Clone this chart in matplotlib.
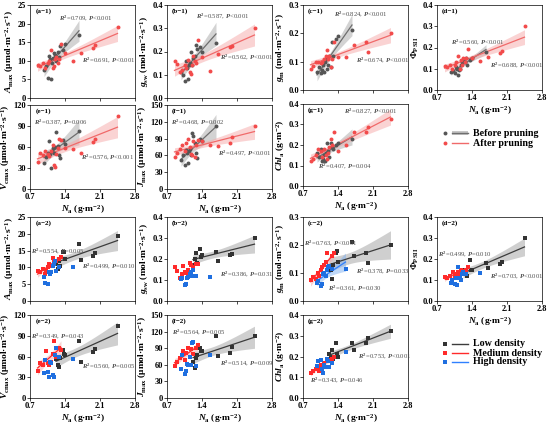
import matplotlib
matplotlib.use("Agg")
import matplotlib.pyplot as plt
import numpy as np

plt.rcParams['font.family'] = ['Liberation Serif', 'DejaVu Serif']
plt.rcParams['mathtext.fontset'] = 'custom'
plt.rcParams['mathtext.rm'] = 'Liberation Serif:bold'
plt.rcParams['mathtext.it'] = 'Liberation Serif:italic:bold'
plt.rcParams['mathtext.bf'] = 'Liberation Serif:bold'

# ---------------- data ----------------
# top half: before / after pruning (shared N_a values)
before_x = [0.98, 1.02, 1.05, 1.08, 1.10, 1.12, 1.14, 1.16, 1.18, 1.20, 1.22, 1.25, 1.28, 1.30, 1.35, 1.40, 1.68]
after_x = [0.85, 0.90, 0.95, 1.00, 1.05, 1.08, 1.12, 1.15, 1.18, 1.20, 1.22, 1.25, 1.28, 1.32, 1.40, 1.55, 1.72, 1.95, 2.00, 2.45]

before_y = {
    'a': [7.5, 8.5, 5.3, 11.2, 10.5, 5.0, 9.5, 10.8, 12.0, 11.5, 10.0, 12.5, 11.0, 14.0, 13.0, 14.5, 17.0],
    'b': [0.11, 0.10, 0.075, 0.16, 0.13, 0.08, 0.14, 0.15, 0.20, 0.14, 0.17, 0.18, 0.23, 0.21, 0.22, 0.20, 0.235],
    'c': [0.065, 0.08, 0.06, 0.07, 0.09, 0.065, 0.10, 0.11, 0.075, 0.09, 0.12, 0.08, 0.17, 0.12, 0.18, 0.19, 0.21],
    'd': [0.085, 0.09, 0.08, 0.11, 0.10, 0.07, 0.095, 0.10, 0.12, 0.13, 0.14, 0.13, 0.15, 0.12, 0.14, 0.15, 0.18],
    'e': [37, 46, 52, 68, 50, 30, 55, 58, 52, 60, 82, 62, 48, 45, 70, 64, 83],
    'f': [52, 60, 43, 70, 65, 47, 68, 72, 60, 100, 95, 82, 65, 55, 90, 85, 112],
    'g': [0.16, 0.14, 0.18, 0.12, 0.13, 0.15, 0.12, 0.16, 0.21, 0.17, 0.14, 0.21, 0.19, 0.18, 0.20, 0.21, 0.23],
}
after_y = {
    'a': [8.8, 8.5, 9.5, 8.0, 9.5, 10.0, 12.8, 8.0, 8.5, 10.5, 11.0, 9.5, 10.5, 14.5, 12.0, 10.0, 12.2, 13.5, 14.2, 19.2],
    'b': [0.16, 0.145, 0.11, 0.12, 0.14, 0.13, 0.165, 0.11, 0.105, 0.14, 0.18, 0.16, 0.15, 0.25, 0.175, 0.115, 0.19, 0.22, 0.225, 0.30],
    'c': [0.075, 0.085, 0.10, 0.10, 0.095, 0.10, 0.11, 0.12, 0.14, 0.11, 0.12, 0.08, 0.11, 0.17, 0.115, 0.115, 0.16, 0.17, 0.135, 0.20],
    'd': [0.115, 0.11, 0.12, 0.10, 0.12, 0.13, 0.16, 0.10, 0.14, 0.12, 0.15, 0.13, 0.15, 0.195, 0.15, 0.135, 0.155, 0.175, 0.185, 0.30],
    'e': [39, 52, 48, 55, 50, 47, 54, 63, 34, 32, 50, 58, 72, 70, 58, 57, 52, 67, 71, 104],
    'f': [57, 65, 72, 78, 68, 82, 90, 75, 62, 60, 85, 58, 78, 88, 85, 78, 76, 82, 93, 112],
    'g': [0.12, 0.13, 0.15, 0.18, 0.17, 0.14, 0.18, 0.15, 0.13, 0.16, 0.19, 0.23, 0.20, 0.265, 0.17, 0.20, 0.265, 0.265, 0.29, 0.325],
}

# bottom half: planting density
low_x = [1.22, 1.25, 1.28, 1.30, 1.35, 1.38, 1.40, 1.68, 1.72, 1.95, 2.00, 2.45]
med_x = [0.85, 0.90, 0.95, 1.00, 1.02, 1.05, 1.08, 1.12, 1.15, 1.18, 1.22, 1.28, 1.32]
high_x = [0.98, 1.00, 1.05, 1.08, 1.10, 1.12, 1.15, 1.18, 1.20, 1.22, 1.28, 1.55]

low_y = {
    'a': [11.0, 9.5, 12.0, 10.5, 14.5, 14.5, 12.5, 17.0, 12.2, 13.5, 14.2, 19.2],
    'b': [0.17, 0.20, 0.23, 0.18, 0.25, 0.21, 0.22, 0.235, 0.19, 0.22, 0.225, 0.30],
    'c': [0.12, 0.11, 0.08, 0.13, 0.17, 0.18, 0.14, 0.21, 0.16, 0.17, 0.135, 0.20],
    'd': [0.13, 0.15, 0.14, 0.12, 0.195, 0.15, 0.15, 0.18, 0.155, 0.175, 0.185, 0.30],
    'e': [57, 47, 45, 58, 70, 64, 62, 82, 52, 67, 71, 104],
    'f': [65, 55, 72, 78, 90, 85, 85, 112, 76, 82, 93, 112],
    'g': [0.21, 0.20, 0.23, 0.19, 0.265, 0.21, 0.20, 0.265, 0.23, 0.265, 0.29, 0.325],
}
med_y = {
    'a': [8.8, 8.5, 9.5, 8.0, 9.0, 10.0, 11.0, 10.5, 12.8, 11.5, 12.0, 12.5, 13.0],
    'b': [0.16, 0.145, 0.11, 0.13, 0.165, 0.14, 0.135, 0.15, 0.18, 0.17, 0.16, 0.175, 0.175],
    'c': [0.075, 0.085, 0.08, 0.10, 0.09, 0.11, 0.12, 0.13, 0.14, 0.17, 0.12, 0.16, 0.17],
    'd': [0.115, 0.11, 0.12, 0.10, 0.14, 0.12, 0.13, 0.14, 0.12, 0.15, 0.145, 0.15, 0.16],
    'e': [39, 50, 48, 55, 68, 50, 47, 52, 63, 82, 60, 72, 70],
    'f': [57, 65, 72, 78, 85, 68, 82, 90, 75, 88, 80, 90, 95],
    'g': [0.12, 0.13, 0.14, 0.15, 0.13, 0.16, 0.14, 0.17, 0.15, 0.18, 0.185, 0.19, 0.20],
}
high_y = {
    'a': [7.0, 5.3, 5.1, 8.5, 8.0, 8.5, 10.5, 11.0, 12.0, 9.0, 10.0, 10.0],
    'b': [0.105, 0.11, 0.075, 0.08, 0.11, 0.115, 0.13, 0.14, 0.12, 0.15, 0.12, 0.115],
    'c': [0.065, 0.07, 0.055, 0.06, 0.095, 0.10, 0.09, 0.11, 0.12, 0.125, 0.115, 0.115],
    'd': [0.085, 0.10, 0.08, 0.11, 0.075, 0.16, 0.11, 0.10, 0.13, 0.14, 0.13, 0.135],
    'e': [36, 55, 38, 30, 52, 50, 33, 31, 62, 72, 60, 57],
    'f': [52, 78, 43, 48, 62, 60, 75, 60, 100, 102, 58, 78],
    'g': [0.155, 0.18, 0.185, 0.14, 0.12, 0.16, 0.15, 0.19, 0.18, 0.15, 0.17, 0.22],
}

ylabels = {
    'a': r"$A_{\rm max}$ (μmol·m$^{-2}$·s$^{-1}$)",
    'b': r"$g_{\rm sw}$ (mol·m$^{-2}$·s$^{-1}$)",
    'c': r"$g_{\rm m}$ (mol·m$^{-2}$·s$^{-1}$)",
    'd': r"$\Phi_{\rm PSII}$",
    'e': r"$V_{\rm cmax}$ (μmol·m$^{-2}$·s$^{-1}$)",
    'f': r"$J_{\rm max}$ (μmol·m$^{-2}$·s$^{-1}$)",
    'g': r"$Chl_{\rm a}$ (g·m$^{-2}$)",
}
yticks = {
    'a': [0, 5, 10, 15, 20, 25],
    'b': [0.0, 0.1, 0.2, 0.3, 0.4],
    'c': [0.0, 0.1, 0.2, 0.3],
    'd': [0.0, 0.1, 0.2, 0.3, 0.4],
    'e': [0, 30, 60, 90, 120],
    'f': [0, 30, 60, 90, 120, 150],
    'g': [0.0, 0.1, 0.2, 0.3, 0.4],
}
xticks = [0.7, 1.4, 2.1, 2.8]

# statistics text per panel: (R2, P, x, y)
notes_top = {
    'a': [("0.709", "<0.001", 1.28, 21.0), ("0.691", "<0.001", 1.75, 9.6)],
    'b': [("0.587", "<0.001", 1.28, 0.345), ("0.562", "<0.001", 1.75, 0.165)],
    'c': [("0.824", "<0.001", 1.32, 0.26), ("0.674", "<0.001", 1.75, 0.098)],
    'd': [("0.560", "<0.001", 0.98, 0.215), ("0.688", "<0.001", 1.75, 0.108)],
    'e': [("0.387", "=0.006", 0.78, 92), ("0.576", "<0.001", 1.72, 43)],
    'f': [("0.468", "=0.002", 0.78, 115), ("0.497", "<0.001", 1.72, 60)],
    'g': [("0.827", "<0.001", 1.52, 0.355), ("0.407", "=0.004", 1.0, 0.085)],
}
notes_bot = {
    'a': [("0.554", "=0.005", 0.72, 14.3), ("0.499", "=0.010", 1.75, 9.8)],
    'b': [("0.386", "=0.031", 1.75, 0.12)],
    'c': [("0.763", "<0.001", 0.72, 0.2), ("0.378", "=0.033", 1.75, 0.1), ("0.361", "=0.030", 1.2, 0.038)],
    'd': [("0.499", "=0.010", 0.72, 0.215), ("0.703", "<0.001", 1.75, 0.108)],
    'e': [("0.349", "=0.043", 0.72, 87), ("0.560", "=0.005", 1.75, 43)],
    'f': [("0.564", "=0.005", 0.8, 115), ("0.514", "=0.009", 1.75, 60)],
    'g': [("0.753", "<0.001", 1.8, 0.19), ("0.343", "=0.046", 0.85, 0.075)],
}
# which density groups get a fitted line in the bottom panels
fit_bot = {
    'a': ['low', 'med'], 'b': ['low'], 'c': ['low', 'med', 'high'], 'd': ['low', 'med'],
    'e': ['low', 'med'], 'f': ['low', 'med'], 'g': ['low', 'med'],
}

# ---------------- layout (pixels: left, top, bottom) ----------------
W, H = 550, 425
cols = [30, 167, 303, 437]
wd = 105
pos_top = {
    'a': (cols[0], 5, 98), 'b': (cols[1], 5, 98), 'c': (cols[2], 5, 90), 'd': (cols[3], 5, 90),
    'e': (cols[0], 105, 189), 'f': (cols[1], 105, 189), 'g': (cols[2], 104, 186),
}
pos_bot = {
    'a': (cols[0], 217, 301), 'b': (cols[1], 217, 301), 'c': (cols[2], 217, 301), 'd': (cols[3], 217, 301),
    'e': (cols[0], 315, 398), 'f': (cols[1], 315, 398), 'g': (cols[2], 315, 398),
}
show_x = ['d', 'e', 'f', 'g']

GRAY_PT, GRAY_LN, GRAY_BD = '#555555', '#6e6e6e', '#b0b0b0'
RED_PT, RED_LN, RED_BD = '#f24b4b', '#f06a6a', '#f6a8a8'
BLK_PT, BLK_LN = '#333333', '#3c3c3c'
RED2_PT, RED2_LN = '#ff2a2a', '#ff2a2a'
BLU_PT, BLU_LN, BLU_BD = '#1f6fe0', '#2f80ff', '#7fb0f0'

fs_tick = 6.0
fs_lab = 6.8
fs_note = 4.8
pt_size = 8


def fit_band(ax, x, y, lc, bc, balpha):
    x = np.asarray(x, float)
    y = np.asarray(y, float)
    b, a = np.polyfit(x, y, 1)
    xs = np.linspace(x.min(), x.max(), 60)
    n = len(x)
    resid = y - (a + b * x)
    s = np.sqrt(np.sum(resid ** 2) / (n - 2))
    sxx = np.sum((x - x.mean()) ** 2)
    se = s * np.sqrt(1.0 / n + (xs - x.mean()) ** 2 / sxx)
    yhat = a + b * xs
    ax.fill_between(xs, yhat - 2.1 * se, yhat + 2.1 * se, color=bc, alpha=balpha, lw=0, zorder=1)
    ax.plot(xs, yhat, color=lc, lw=0.9, zorder=3)


def make_axes(fig, key, pos, tag):
    l, t, b = pos
    ax = fig.add_axes([l / W, 1 - b / H, wd / W, (b - t) / H])
    ax.set_xlim(0.7, 2.8)
    ax.set_ylim(yticks[key][0], yticks[key][-1])
    ax.set_xticks(xticks)
    ax.set_yticks(yticks[key])
    if key in ('b', 'c', 'd', 'g'):
        ax.set_yticklabels([f"{v:.1f}" for v in yticks[key]])
    ax.tick_params(length=2, width=0.5, labelsize=fs_tick, pad=1)
    if key in show_x:
        ax.set_xticklabels(["0.7", "1.4", "2.1", "2.8"])
        ax.set_xlabel(r"$N_{\rm a}$ (g·m$^{-2}$)", fontsize=fs_lab, fontweight='bold', labelpad=1)
    else:
        ax.set_xticklabels([])
    for lbl in ax.get_xticklabels() + ax.get_yticklabels():
        lbl.set_fontweight('bold')
    ax.set_ylabel(ylabels[key], fontsize=fs_lab, fontweight='bold', labelpad=1)
    for sp in ax.spines.values():
        sp.set_linewidth(0.5)
    ax.text(0.05, 0.965, f"({key}\u2212{tag})", transform=ax.transAxes, fontsize=fs_note + 0.3,
            fontweight='bold', va='top', ha='left')
    return ax


def note(ax, r2, p, x, y):
    ax.text(x, y, rf"$R^2$={r2}, $P${p}", fontsize=fs_note, color='#505050', zorder=5)


fig = plt.figure(figsize=(5.5, 4.25), dpi=100)

# top half
for key in 'abcdefg':
    ax = make_axes(fig, key, pos_top[key], '1')
    fit_band(ax, before_x, before_y[key], GRAY_LN, GRAY_BD, 0.55)
    fit_band(ax, after_x, after_y[key], RED_LN, RED_BD, 0.5)
    ax.scatter(before_x, before_y[key], s=pt_size, color=GRAY_PT, lw=0, zorder=4)
    ax.scatter(after_x, after_y[key], s=pt_size, color=RED_PT, lw=0, zorder=4)
    for r2, p, x, y in notes_top[key]:
        note(ax, r2, p, x, y)

# bottom half
groups = {
    'low': (low_x, low_y, BLK_PT, BLK_LN, GRAY_BD, 0.6),
    'med': (med_x, med_y, RED2_PT, RED2_LN, RED_BD, 0.5),
    'high': (high_x, high_y, BLU_PT, BLU_LN, BLU_BD, 0.5),
}
for key in 'abcdefg':
    ax = make_axes(fig, key, pos_bot[key], '2')
    for g in ['low', 'med', 'high']:
        gx, gy, pc, lc, bc, al = groups[g]
        if g in fit_bot[key]:
            fit_band(ax, gx, gy[key], lc, bc, al)
    for g in ['low', 'med', 'high']:
        gx, gy, pc, lc, bc, al = groups[g]
        ax.scatter(gx, gy[key], s=pt_size, marker='s', color=pc, lw=0, zorder=4)
    for r2, p, x, y in notes_bot[key]:
        note(ax, r2, p, x, y)


# legends
def legend_row(y_px, pt_color, ln_color, label, marker, band=None):
    lx = fig.add_axes([440 / W, 1 - (y_px + 4) / H, 30 / W, 8 / H])
    lx.set_xlim(0, 30)
    lx.set_ylim(-1, 1)
    lx.axis('off')
    lx.scatter([5], [0], s=pt_size, color=pt_color, marker=marker, lw=0)
    if band is not None:
        lx.fill_between([12, 28], [-0.45, -0.45], [0.45, 0.45], color=band, alpha=0.7, lw=0)
    lx.plot([12, 28], [0, 0], color=ln_color, lw=1.0)
    fig.text(473 / W, 1 - y_px / H, label, fontsize=fs_lab + 0.4, fontweight='bold', va='center')


legend_row(133, GRAY_PT, GRAY_LN, "Before pruning", 'o', GRAY_BD)
legend_row(143, RED_PT, RED_LN, "After pruning", 'o')
legend_row(344, BLK_PT, BLK_LN, "Low density", 's')
legend_row(353, RED2_PT, RED2_LN, "Medium density", 's')
legend_row(362, BLU_PT, BLU_LN, "High density", 's')

fig.savefig("out.png", dpi=100)
